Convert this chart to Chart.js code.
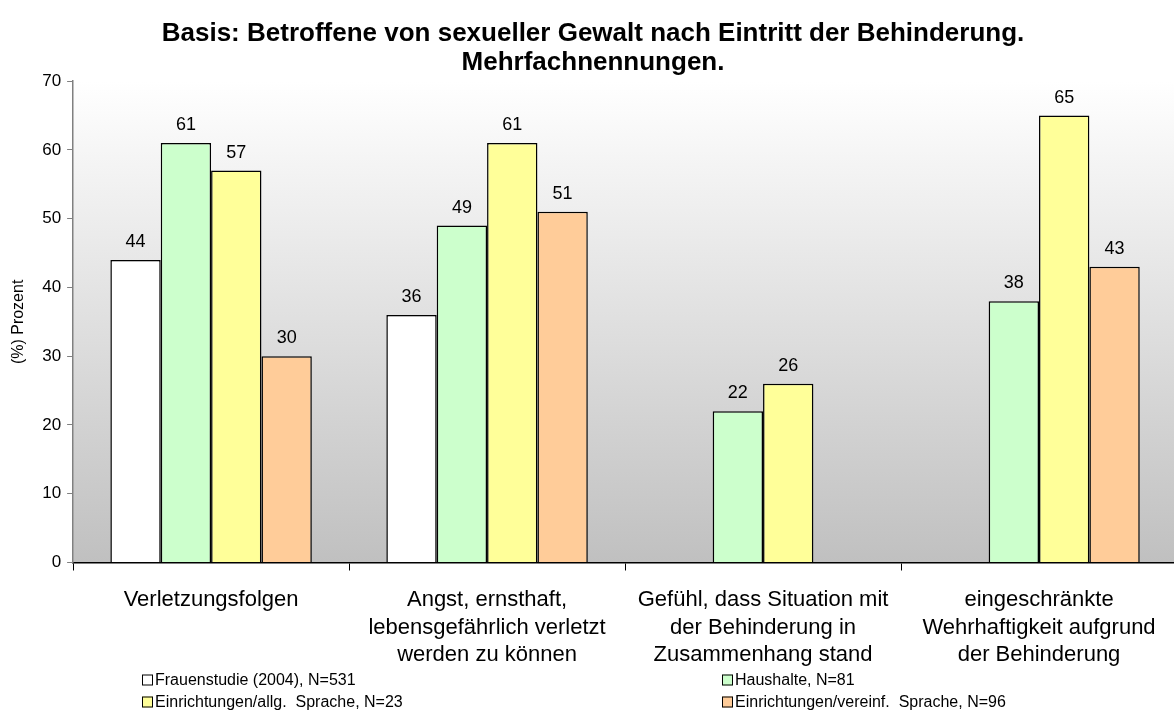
<!DOCTYPE html>
<html>
<head>
<meta charset="utf-8">
<script src="https://cdn.jsdelivr.net/npm/chart.js@4"></script>
<style>
  html, body { margin: 0; padding: 0; background: #fff; overflow: hidden; }
  #wrap { width: 1180px; height: 722px; }
</style>
</head>
<body>
<div id="wrap"><canvas id="chart"></canvas></div>
<script>
let categories = [
    'Verletzungsfolgen',
    ['Angst, ernsthaft,', 'lebensgefährlich verletzt', 'werden zu können'],
    ['Gefühl, dass Situation mit', 'der Behinderung in', 'Zusammenhang stand'],
    ['eingeschränkte', 'Wehrhaftigkeit aufgrund', 'der Behinderung']
];
let serien = ['Frauenstudie (2004), N=531', 'Haushalte, N=81', 'Einrichtungen/allg.  Sprache, N=23', 'Einrichtungen/vereinf.  Sprache, N=96'];
let frauenstudie = [44, 36, null, null];
let haushalte = [61, 49, 22, 38];
let allgSprache = [57, 61, 26, 65];
let vereinfSprache = [30, 51, null, 43];
let yTicks = [0, 10, 20, 30, 40, 50, 60, 70];
let farben = ['#ffffff', '#ccffcc', '#ffff99', '#ffcc99'];

const police = '"Liberation Sans", Arial, sans-serif';

// fond degrade du plot
const fondPlugin = {
    id: 'fond',
    beforeDraw(chart) {
        const a = chart.chartArea;
        const c = chart.ctx;
        let g = c.createLinearGradient(0, a.top, 0, a.bottom);
        g.addColorStop(0, '#ffffff');
        g.addColorStop(1, '#c0c0c0');
        c.save();
        c.fillStyle = g;
        c.fillRect(a.left, a.top, a.right - a.left, a.bottom - a.top);
        c.restore();
    }
};

// valeurs au dessus des barres
const valeursPlugin = {
    id: 'valeurs',
    afterDatasetsDraw(chart) {
        const c = chart.ctx;
        c.save();
        c.font = '18px ' + police;
        c.fillStyle = '#000';
        c.textAlign = 'center';
        c.textBaseline = 'middle';
        chart.data.datasets.forEach((ds, i) => {
            chart.getDatasetMeta(i).data.forEach((bar, j) => {
                if (ds.data[j] == null) return;
                c.fillText(ds.data[j], bar.x, bar.y - 18);
            });
        });
        c.restore();
    }
};

// legende en grille 2 colonnes
const legendePlugin = {
    id: 'legende',
    afterDraw(chart) {
        const c = chart.ctx;
        const cols = [142, 722];
        const rows = [680, 702];
        c.save();
        c.font = '16px ' + police;
        c.textBaseline = 'middle';
        c.textAlign = 'left';
        chart.data.datasets.forEach((ds, i) => {
            let x = cols[i % 2];
            let y = rows[Math.floor(i / 2)];
            c.fillStyle = ds.backgroundColor;
            c.fillRect(x, y - 5.5, 11, 11);
            c.strokeStyle = '#000';
            c.lineWidth = 1;
            c.strokeRect(x + 0.5, y - 5, 10, 10);
            c.fillStyle = '#000';
            c.fillText(ds.label, x + 13, y + 1);
        });
        c.restore();
    }
};

const valeurs = [frauenstudie, haushalte, allgSprache, vereinfSprache];

new Chart(document.getElementById('chart').getContext('2d'), {
    type: 'bar',
    data: {
        labels: categories,
        datasets: serien.map((nom, i) => ({
            label: nom,
            data: valeurs[i],
            backgroundColor: farben[i],
            borderColor: '#000000',
            borderWidth: 1.5,
            categoryPercentage: 0.73,
            barPercentage: 1
        }))
    },
    options: {
        responsive: true,
        maintainAspectRatio: false,
        animation: false,
        layout: { padding: { left: 9, right: 3, bottom: 37, top: 0 } },
        plugins: {
            legend: { display: false },
            tooltip: { enabled: false },
            title: {
                display: true,
                text: ['Basis: Betroffene von sexueller Gewalt nach Eintritt der Behinderung.', 'Mehrfachnennungen.'],
                color: '#000',
                font: { family: police, size: 26, weight: 'bold', lineHeight: 1.12 },
                padding: { top: 19, bottom: 4 }
            }
        },
        scales: {
            x: {
                grid: { display: true, offset: true, drawOnChartArea: false, tickLength: 8, color: '#000' },
                border: { color: '#000', width: 1.5 },
                ticks: {
                    color: '#000',
                    maxRotation: 0,
                    autoSkip: false,
                    padding: 16,
                    font: { family: police, size: 22, lineHeight: 1.25 }
                }
            },
            y: {
                min: 0,
                max: 70,
                afterBuildTicks(axis) { axis.ticks = yTicks.map(v => ({ value: v })); },
                grid: { display: true, drawOnChartArea: false, tickLength: 6, color: '#808080' },
                border: { color: '#808080', width: 1.5 },
                ticks: {
                    color: '#000',
                    padding: 6,
                    font: { family: police, size: 17 }
                },
                title: {
                    display: true,
                    text: '(%) Prozent',
                    color: '#000',
                    font: { family: police, size: 16 },
                    padding: { top: 0, bottom: 8 }
                }
            }
        }
    },
    plugins: [fondPlugin, valeursPlugin, legendePlugin]
});
</script>
</body>
</html>
